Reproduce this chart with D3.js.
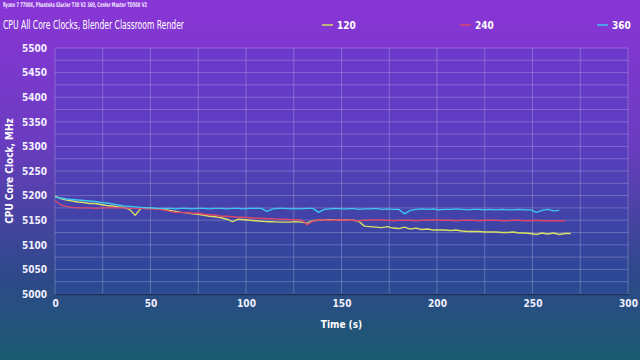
<!DOCTYPE html>
<html><head><meta charset="utf-8">
<script src="https://cdn.jsdelivr.net/npm/d3@7"></script>
<style>html,body{margin:0;padding:0;overflow:hidden;}svg{display:block;}</style>
</head><body>
<svg id="c" width="640" height="360"></svg>
<script>
const subtitle = "Ryzen 7 7700X, Phanteks Glacier T30 V2 360, Cooler Master TD500 V2";
const title = "CPU All Core Clocks, Blender Classroom Render";
const xTicks = [0, 50, 100, 150, 200, 250, 300];
const yTicks = [5000, 5050, 5100, 5150, 5200, 5250, 5300, 5350, 5400, 5450, 5500];
const seriesNames = ["120", "240", "360"];
const seriesColors = ["#d6e063", "#d9476b", "#3cc6f0"];
const timeStep = 3;
const s120 = [5199,5194,5191,5189,5187,5186,5184,5184,5182,5180,5179,5177,5176,5172,5160,5174,5175,5174,5173,5172,
  5170,5168,5166,5165,5163,5162,5160,5158,5157,5155,5152,5147,5152,5151,5150,5149,5148,5147,5147,5146,
  5146,5146,5147,5146,5144,5149,5150,5150,5151,5150,5151,5150,5150,5148,5138,5137,5136,5135,5137,5134,
  5133,5136,5132,5134,5131,5132,5130,5130,5130,5129,5130,5128,5127,5127,5127,5126,5126,5126,5125,5125,
  5126,5124,5124,5123,5121,5124,5122,5124,5121,5123,5123];
const s240 = [5190,5181,5178,5176,5175,5175,5175,5174,5175,5175,5176,5175,5175,5174,5174,5174,5173,5173,5172,5171,
  5168,5166,5166,5165,5164,5164,5162,5161,5160,5158,5158,5157,5156,5156,5155,5154,5154,5153,5153,5152,
  5152,5151,5151,5151,5141,5148,5151,5150,5150,5150,5151,5150,5150,5149,5150,5150,5151,5150,5150,5149,
  5150,5150,5150,5149,5150,5150,5151,5150,5150,5150,5149,5150,5150,5150,5149,5150,5150,5150,5149,5149,
  5150,5150,5149,5149,5150,5149,5149,5149,5149,5149];
const s360 = [5197,5195,5193,5192,5191,5190,5189,5188,5186,5185,5183,5181,5179,5178,5177,5176,5175,5175,5174,5174,
  5174,5173,5174,5174,5173,5174,5174,5173,5174,5174,5173,5174,5174,5173,5174,5174,5174,5168,5173,5174,
  5174,5173,5174,5173,5174,5174,5166,5172,5173,5174,5173,5173,5174,5172,5173,5173,5174,5172,5173,5172,
  5172,5163,5170,5172,5173,5172,5173,5171,5172,5172,5173,5172,5171,5172,5172,5171,5172,5171,5172,5171,
  5171,5172,5171,5171,5166,5170,5172,5169,5170];
const seriesValues = [s120, s240, s360];

const W = 640, H = 360;
const m = {l: 55, r: 12, t: 48, b: 66};
const svg = d3.select("#c");
const defs = svg.append("defs");
const bg = defs.append("linearGradient").attr("id","bg").attr("x1",0).attr("y1",0).attr("x2",0).attr("y2",1);
bg.append("stop").attr("offset","0%").attr("stop-color","#8a35d6");
bg.append("stop").attr("offset","40%").attr("stop-color","#6a3cc0");
bg.append("stop").attr("offset","75%").attr("stop-color","#30488c");
bg.append("stop").attr("offset","100%").attr("stop-color","#1a5a70");
svg.append("rect").attr("width",W).attr("height",H).attr("fill","url(#bg)");

const x = d3.scaleLinear().domain([0,300]).range([m.l, W-m.r]);
const y = d3.scaleLinear().domain([5000,5500]).range([H-m.b, m.t]);

svg.append("rect").attr("x",x(0)).attr("y",y(5500)).attr("width",x(300)-x(0)).attr("height",y(5000)-y(5500))
  .attr("fill","rgba(40,70,190,0.22)");

const font = "'DejaVu Sans Condensed','Liberation Sans Narrow',sans-serif";
// grid
const gx = d3.range(0, 301, 25), gy = d3.range(5000, 5501, 25);
svg.append("g").selectAll("line").data(gx).join("line")
  .attr("x1",d=>x(d)).attr("x2",d=>x(d)).attr("y1",y(5000)).attr("y2",y(5500))
  .attr("stroke","rgba(255,255,255,0.22)").attr("stroke-width",1);
svg.append("g").selectAll("line").data(gy).join("line")
  .attr("y1",d=>y(d)).attr("y2",d=>y(d)).attr("x1",x(0)).attr("x2",x(300))
  .attr("stroke","rgba(255,255,255,0.22)").attr("stroke-width",1);

// axes
const xa = svg.append("g").attr("transform",`translate(0,${y(5000)})`)
  .call(d3.axisBottom(x).tickValues(xTicks).tickFormat(d3.format("d")).tickSize(0).tickPadding(6));
xa.select(".domain").attr("stroke","#1f2d5c").attr("stroke-width",1.5);
xa.selectAll("text").attr("fill","#f2f0ff").attr("font-family",font).attr("font-size",10).attr("font-weight","bold");
const ya = svg.append("g").attr("transform",`translate(${x(0)},0)`)
  .call(d3.axisLeft(y).tickValues(yTicks).tickFormat(d3.format("d")).tickSize(0).tickPadding(8));
ya.select(".domain").remove();
ya.selectAll("text").attr("fill","#f2f0ff").attr("font-family",font).attr("font-size",10).attr("font-weight","bold");

// lines
const line = d3.line().defined(d=>d!=null).x((d,i)=>x(i*timeStep)).y(d=>y(d));
seriesValues.forEach((vals,k)=>{
  svg.append("path").datum(vals).attr("d",line).attr("fill","none")
    .attr("stroke",seriesColors[k]).attr("stroke-width",1.4).attr("stroke-linejoin","round");
});

// titles
svg.append("text").attr("x",3).attr("y",7).text(subtitle).attr("fill","#f0e8ff")
  .attr("font-family",font).attr("font-size",6.5).attr("font-weight","bold")
  .attr("textLength",144).attr("lengthAdjust","spacingAndGlyphs");
svg.append("text").attr("x",3).attr("y",29).text(title).attr("fill","#ffffff")
  .attr("font-family",font).attr("font-size",12.5)
  .attr("textLength",181).attr("lengthAdjust","spacingAndGlyphs");
svg.append("text").attr("x",(x(0)+x(300))/2).attr("y",328).attr("text-anchor","middle").text("Time (s)")
  .attr("fill","#ffffff").attr("font-family",font).attr("font-size",10).attr("font-weight","bold");
svg.append("text").attr("transform",`translate(13,${(y(5000)+y(5500))/2}) rotate(-90)`).attr("text-anchor","middle")
  .text("CPU Core Clock, MHz").attr("fill","#ffffff").attr("font-family",font).attr("font-size",10).attr("font-weight","bold");

// legend
const legX = [322, 460, 597];
seriesNames.forEach((n,k)=>{
  const g = svg.append("g").attr("transform",`translate(${legX[k]},25)`);
  g.append("line").attr("x1",0).attr("x2",11).attr("y1",0).attr("y2",0).attr("stroke",seriesColors[k]).attr("stroke-width",1.5);
  g.append("text").attr("x",15).attr("y",4).text(n).attr("fill","#ffffff")
    .attr("font-family",font).attr("font-size",10).attr("font-weight","bold");
});
</script>
</body></html>
